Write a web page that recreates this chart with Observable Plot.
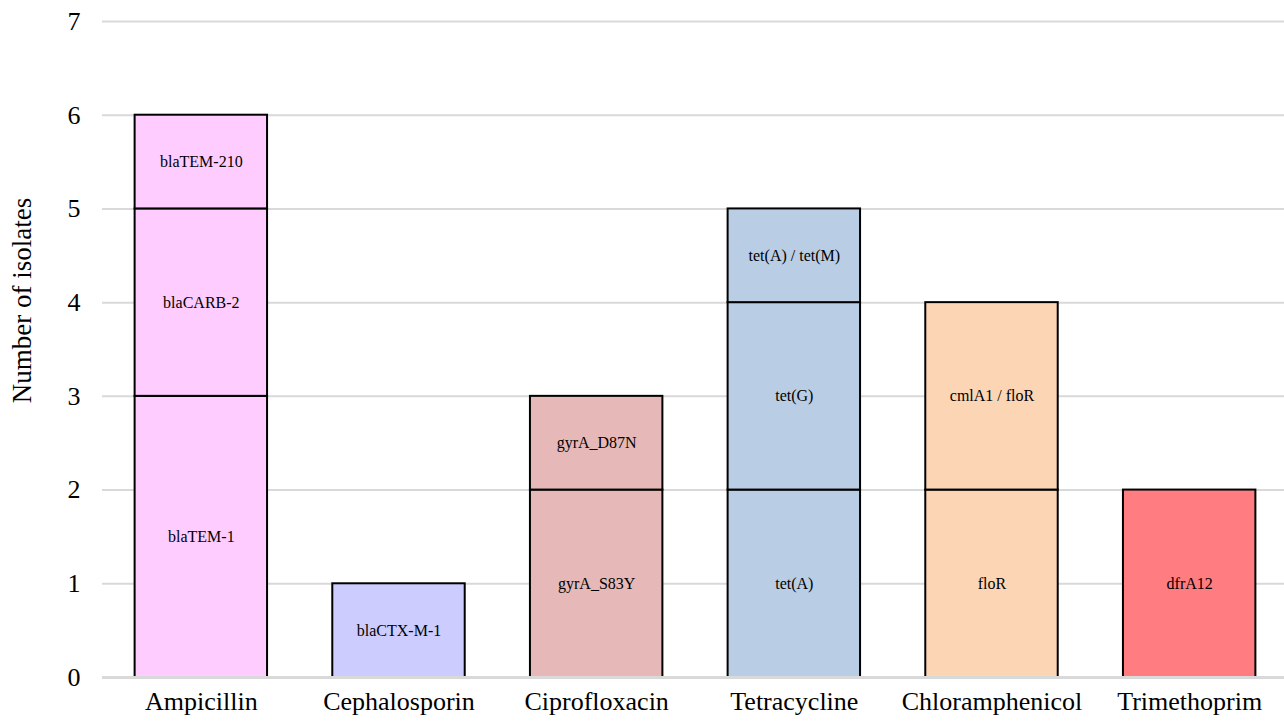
<!DOCTYPE html>
<html>
<head>
<meta charset="utf-8">
<script src="https://cdn.jsdelivr.net/npm/d3@7"></script>
<script src="https://cdn.jsdelivr.net/npm/@observablehq/plot@0.6"></script>
<style>
  html, body { margin: 0; padding: 0; background: #fff; }
  #chart { width: 1284px; height: 722px; overflow: hidden; }
</style>
</head>
<body>
<div id="chart"></div>
<script>
const drugs = ["Ampicillin", "Cephalosporin", "Ciprofloxacin", "Tetracycline", "Chloramphenicol", "Trimethoprim"];
const drugColors = ["#FFCCFF", "#CCCCFF", "#E6B9B8", "#B9CDE5", "#FCD5B5", "#FF7C80"];
const segDrug = ["Ampicillin", "Ampicillin", "Ampicillin", "Cephalosporin", "Ciprofloxacin", "Ciprofloxacin", "Tetracycline", "Tetracycline", "Tetracycline", "Chloramphenicol", "Chloramphenicol", "Trimethoprim"];
const segGene = ["blaTEM-1", "blaCARB-2", "blaTEM-210", "blaCTX-M-1", "gyrA_S83Y", "gyrA_D87N", "tet(A)", "tet(G)", "tet(A) / tet(M)", "floR", "cmlA1 / floR", "dfrA12"];
const segCount = [3, 2, 1, 1, 2, 1, 2, 2, 1, 2, 2, 2];
const yTicks = [0, 1, 2, 3, 4, 5, 6, 7];
const yTitle = "Number of isolates";

const data = segDrug.map((d, i) => ({drug: d, gene: segGene[i], count: segCount[i]}));

const chart = Plot.plot({
  width: 1284,
  height: 722,
  marginLeft: 102,
  marginRight: 0,
  marginTop: 21,
  marginBottom: 45,
  style: {fontFamily: "'Liberation Serif', 'Times New Roman', serif", color: "#000", background: "#fff"},
  x: {domain: drugs, range: [102, 1288], round: false, paddingInner: 0.33, paddingOuter: 0.165, label: null},
  y: {domain: [0, 7], ticks: yTicks, label: null},
  color: {domain: drugs, range: drugColors},
  marks: [
    Plot.gridY(yTicks, {stroke: "#d9d9d9", strokeOpacity: 1, strokeWidth: 2}),
    Plot.barY(data, {x: "drug", y: "count", fill: "drug", stroke: "#000", strokeWidth: 2}),
    Plot.ruleY([0], {stroke: "#d9d9d9", strokeWidth: 3}),
    Plot.text(data, Plot.stackY({x: "drug", y: "count", text: "gene", fontSize: 16, fill: "#000"})),
    Plot.axisY(yTicks, {tickSize: 0, tickPadding: 22, fontSize: 26, label: null, tickFormat: d => String(d)}),
    Plot.axisX({tickSize: 0, tickPadding: 14, fontSize: 26, label: null}),
    Plot.text([yTitle], {frameAnchor: "left", dx: -80, dy: -49, rotate: -90, textAnchor: "middle", fontSize: 27, fill: "#000", text: d => d})
  ]
});
document.getElementById("chart").appendChild(chart);
</script>
</body>
</html>
